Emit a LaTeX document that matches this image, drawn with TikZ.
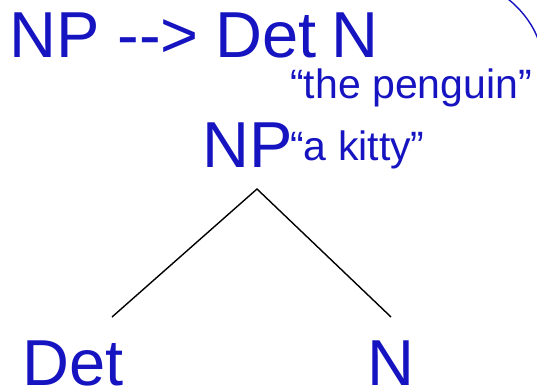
\documentclass[tikz,border=0pt]{standalone}
\usepackage{fontspec}
\setmainfont{Liberation Sans}
\definecolor{synblue}{RGB}{22,20,192}
\begin{document}
\begin{tikzpicture}[x=1pt,y=-1pt,
  big/.style={text=synblue,font=\fontsize{65}{65}\selectfont,inner sep=0pt,anchor=base west},
  small/.style={text=synblue,font=\fontsize{41}{41}\selectfont,inner sep=0pt,anchor=base west},
  branch/.style={draw=black,line width=1.4pt}]
\useasboundingbox (0,0) rectangle (537,391);
\node[big] (rule) at (9,57) {NP -{}->\hspace{-1pt} Det\hspace{-4pt} N};
\node[small] (peng) at (290,98) {“the penguin”};
\node[big] (np) at (202,167) {NP};
\node[small] (kitty) at (290,160) {“a kitty”};
\node[big] (det) at (22,385) {Det};
\node[big] (n) at (367,385) {N};
\coordinate (apex) at (257,189);
\coordinate (lend) at (112,317);
\coordinate (rend) at (391,317);
\draw[branch] (lend) -- (apex) -- (rend);
\coordinate (a1) at (508,-1);
\coordinate (a2) at (539,42);
\draw[synblue,line width=1.4pt] (a1) .. controls (522,10) and (534,26) .. (a2);
\end{tikzpicture}
\end{document}
